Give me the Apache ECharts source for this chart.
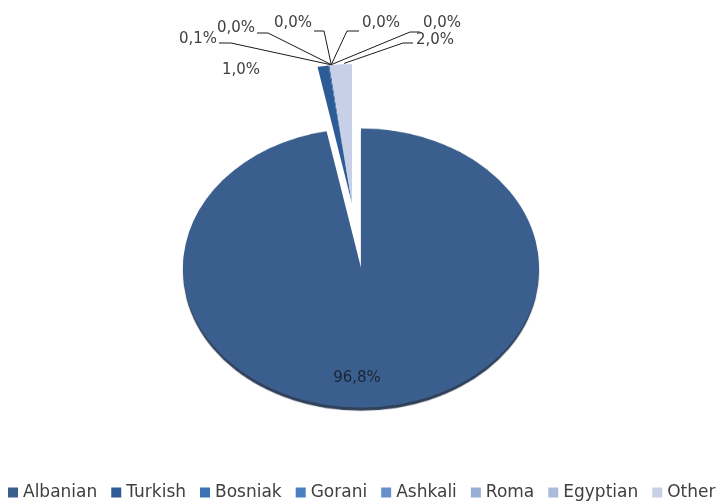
<!DOCTYPE html>
<html>
<head>
<meta charset="utf-8">
<script src="https://cdn.jsdelivr.net/npm/echarts@6/dist/echarts.min.js"></script>
<style>
html, body { margin: 0; padding: 0; background: #fff; overflow: hidden; }
#wrap { position: relative; width: 722px; height: 501px; }
/* the pie is drawn round and squashed to the tilted ellipse */
#pie { position: absolute; left: 0; top: 0; width: 722px; height: 639px; transform: scaleY(0.784); transform-origin: 0 0; }
#labels { position: absolute; left: 0; top: 0; width: 722px; height: 501px; }
</style>
</head>
<body>
<div id="wrap"><div id="pie"></div><div id="labels"></div></div>
<script>
var groups = ["Albanian", "Turkish", "Bosniak", "Gorani", "Ashkali", "Roma", "Egyptian", "Other"];
var shares = [96.8, 1.0, 0.1, 0.0, 0.0, 0.0, 0.0, 2.0];

var colors = ["#3a5e8d", "#2d5b95", "#3b72b3", "#4a7fc2", "#6690cb", "#98add3", "#aabcd9", "#c8d0e8"];
var tilt = 0.784;
var cy = 268 / tilt;

// where each percentage label sits, and the elbow of its leader line
var labelSpots = [
  { x: 357, y: 378, align: "center" },
  { x: 222, y: 70, align: "left" },
  { x: 217, y: 39, align: "right", lineY: 43, end: 219, elbow: 231 },
  { x: 255, y: 28, align: "right", lineY: 33, end: 257, elbow: 268 },
  { x: 312, y: 23, align: "right", lineY: 31, end: 314, elbow: 324 },
  { x: 362, y: 23, align: "left", lineY: 31, end: 359, elbow: 347 },
  { x: 423, y: 23, align: "left", lineY: 32, end: 420, elbow: 410 },
  { x: 416, y: 40, align: "left", lineY: 43, end: 413, elbow: 403 }
];

function fmt(v) {
  return v.toFixed(1).replace(".", ",") + "%";
}

// main slice in one series, the pulled-out small slices in a second one
function pieData(showMain) {
  return groups.map(function (g, i) {
    var visible = (i === 0) === showMain;
    var st = { color: colors[i], opacity: visible ? 1 : 0, borderWidth: 0 };
    if (i === 0 && visible) {
      st.shadowColor = "rgba(25,42,70,0.9)";
      st.shadowBlur = 1;
      st.shadowOffsetY = 4;
    }
    return { name: g, value: shares[i], itemStyle: st };
  });
}

var pieChart = echarts.init(document.getElementById("pie"));
pieChart.setOption({
  animation: false,
  series: [{
    type: "pie",
    center: [361, cy],
    radius: 178,
    startAngle: 90,
    label: { show: false },
    labelLine: { show: false },
    emphasis: { disabled: true },
    data: pieData(true)
  }, {
    type: "pie",
    center: [352, cy - 82],
    radius: 178,
    startAngle: 90,
    label: { show: false },
    labelLine: { show: false },
    emphasis: { disabled: true },
    data: pieData(false)
  }]
});

var labelChart = echarts.init(document.getElementById("labels"));
labelChart.setOption({
  animation: false,
  legend: {
    left: 3,
    top: 479,
    itemGap: 14,
    itemWidth: 10,
    itemHeight: 10,
    icon: "rect",
    itemStyle: { opacity: 1 },
    textStyle: { color: "#404040", fontFamily: "DejaVu Sans", fontSize: 17 },
    selectedMode: false,
    data: groups
  },
  series: [{
    type: "pie",
    center: [357, 268],
    radius: 205,
    startAngle: 90,
    avoidLabelOverlap: false,
    silent: true,
    itemStyle: { opacity: 0 },
    label: {
      show: true,
      opacity: 1,
      color: "#404040",
      fontFamily: "DejaVu Sans",
      fontSize: 15,
      formatter: function (p) { return fmt(p.value); }
    },
    labelLine: { show: true, lineStyle: { color: "#1a1a1a", width: 1, opacity: 1 } },
    labelLayout: function (p) {
      var s = labelSpots[p.dataIndex];
      var out = { x: s.x, y: s.y, align: s.align, verticalAlign: "middle" };
      if (s.elbow != null && p.labelLinePoints) {
        var a = p.labelLinePoints[0];
        out.labelLinePoints = [[a[0], a[1]], [s.elbow, s.lineY], [s.end, s.lineY]];
      }
      return out;
    },
    data: groups.map(function (g, i) {
      var item = { name: g, value: shares[i], itemStyle: { color: colors[i] } };
      if (i === 0) {
        item.label = { color: "#1b2535" };
      }
      if (i < 2) {
        item.labelLine = { show: false };
      }
      return item;
    })
  }]
});
</script>
</body>
</html>
